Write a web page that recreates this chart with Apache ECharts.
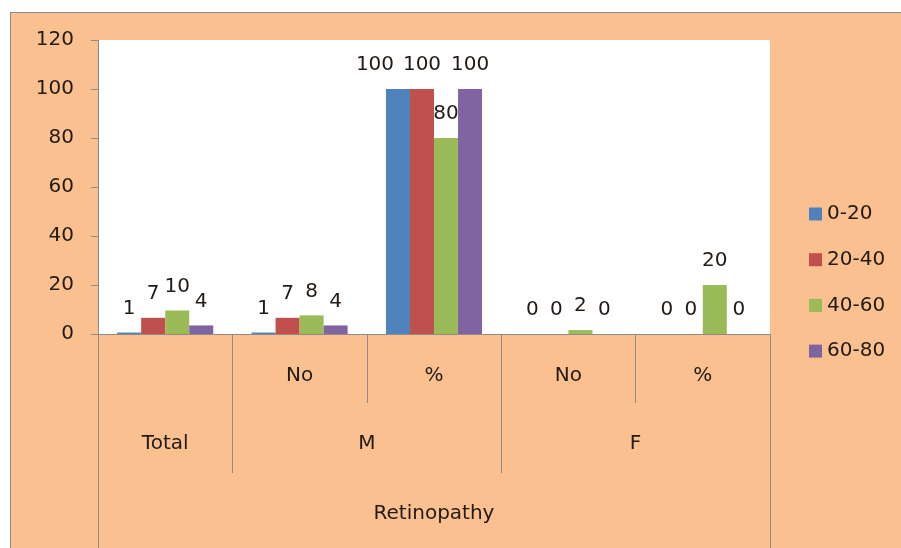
<!DOCTYPE html>
<html>
<head>
<meta charset="utf-8">
<script src="https://cdn.jsdelivr.net/npm/echarts@6/dist/echarts.min.js"></script>
<style>
  html, body { margin: 0; padding: 0; background: #ffffff; }
  #frame { position: absolute; left: 10px; top: 12px; width: 900px; height: 540px;
           background: #FAC090; border-left: 1px solid #8a8a8a; border-top: 1px solid #8a8a8a; }
  #chart { position: absolute; left: 0; top: 0; width: 901px; height: 548px; }
</style>
</head>
<body>
<div id="frame"></div>
<div id="chart"></div>
<script>
// ---- data ----
const categories = ['Total', 'M No', 'M %', 'F No', 'F %'];
const subLabels = ['', 'No', '%', 'No', '%'];
const groupLabels = ['Total', 'M', 'F'];
const groupSpans = [[0, 0], [1, 2], [3, 4]];
const axisTitle = 'Retinopathy';
const seriesNames = ['0-20', '20-40', '40-60', '60-80'];
const s0_20  = [0.6, 0.6, 100, 0, 0];
const s20_40 = [6.6, 6.6, 100, 0, 0];
const s40_60 = [9.6, 7.6, 80, 1.6, 20];
const s60_80 = [3.5, 3.5, 100, 0, 0];
const yTicks = { min: 0, max: 120, interval: 20 };

const colors = ['#4F81BD', '#C0504D', '#9BBB59', '#8064A2'];
const FONT = 'DejaVu Sans';
const TXT = '#231a14';
const LINE = '#8c8c8c';

const chart = echarts.init(document.getElementById('chart'), null, { renderer: 'canvas' });
const allSeries = [s0_20, s20_40, s40_60, s60_80];

// label overlap avoidance (Excel shifts the first "100" label left)
function seriesData(d, k) {
  return d.map((v, i) => {
    if (k === 0 && i === 2) return { value: v, label: { offset: [-23, 0] } };
    return v;
  });
}

const option = {
  backgroundColor: 'transparent',
  animation: false,
  color: colors,
  textStyle: { fontFamily: FONT },
  grid: { left: 98, top: 40, right: 131, bottom: 214, show: true, backgroundColor: '#ffffff', borderWidth: 0 },
  legend: {
    orient: 'vertical', left: 804, top: 199,
    itemWidth: 13, itemHeight: 13, itemGap: 25.7,
    icon: 'rect',
    textStyle: { fontFamily: FONT, fontSize: 20, color: TXT },
    data: seriesNames
  },
  xAxis: {
    type: 'category',
    data: categories,
    axisLine: { lineStyle: { color: LINE, width: 1 } },
    axisTick: { show: true, length: 69, interval: 0, lineStyle: { color: LINE } },
    axisLabel: {
      interval: 0, margin: 32, fontFamily: FONT, fontSize: 20, color: TXT,
      formatter: (v, i) => subLabels[i]
    }
  },
  yAxis: {
    type: 'value', min: yTicks.min, max: yTicks.max, interval: yTicks.interval,
    splitLine: { show: false },
    axisLine: { show: true, lineStyle: { color: LINE } },
    axisTick: { show: true, length: 7, lineStyle: { color: LINE } },
    axisLabel: { margin: 24, fontFamily: FONT, fontSize: 20, color: TXT }
  },
  series: allSeries.map((d, k) => ({
    name: seriesNames[k],
    type: 'bar',
    data: seriesData(d, k),
    barGap: '0%',
    barCategoryGap: '28.5%',
    label: {
      show: true, position: 'top', distance: 14,
      fontFamily: FONT, fontSize: 20, color: TXT,
      formatter: p => String(Math.round(p.value))
    }
  }))
};
chart.setOption(option);

// multi-level axis decoration
const centers = categories.map((c, i) => chart.convertToPixel({ xAxisIndex: 0 }, i));
const step = centers[1] - centers[0];
const bounds = [centers[0] - step / 2];
centers.forEach(c => bounds.push(c + step / 2));
const axisY = chart.convertToPixel({ yAxisIndex: 0 }, 0);
const graphics = [];
function vline(x, y1, y2) {
  graphics.push({ type: 'line', silent: true, shape: { x1: Math.round(x) + 0.5, y1: y1, x2: Math.round(x) + 0.5, y2: y2 },
    style: { stroke: LINE, lineWidth: 1 } });
}
const groupBounds = new Set();
groupSpans.forEach(s => { groupBounds.add(s[0]); groupBounds.add(s[1] + 1); });
groupBounds.forEach(b => vline(bounds[b], axisY, axisY + 139));
vline(bounds[0], axisY, 548);
vline(bounds[bounds.length - 1], axisY, 548);
groupLabels.forEach((g, i) => {
  const cx = (bounds[groupSpans[i][0]] + bounds[groupSpans[i][1] + 1]) / 2;
  graphics.push({ type: 'text', silent: true, x: cx, y: axisY + 110,
    style: { text: g, font: '20px "' + FONT + '"', fill: TXT, align: 'center', verticalAlign: 'middle' } });
});
graphics.push({ type: 'text', silent: true, x: (bounds[0] + bounds[bounds.length - 1]) / 2, y: axisY + 180,
  style: { text: axisTitle, font: '20px "' + FONT + '"', fill: TXT, align: 'center', verticalAlign: 'middle' } });
chart.setOption({ graphic: graphics });
</script>
</body>
</html>
